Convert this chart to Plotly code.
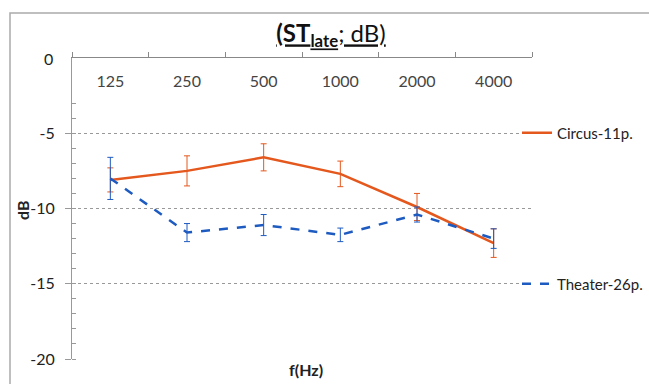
import plotly.graph_objects as go

freqs = ["125", "250", "500", "1000", "2000", "4000"]
circus = [-8.1, -7.5, -6.6, -7.7, -9.9, -12.3]
circus_err = [0.8, 1.0, 0.9, 0.85, 0.9, 0.95]
theater = [-8.0, -11.6, -11.1, -11.75, -10.4, -12.0]
theater_err = [1.4, 0.6, 0.7, 0.45, 0.5, 0.65]
y_ticks = [-5, -10, -15, -20]
y_tick_text = ["-5", "-10", "-15", "-20"]

orange = "#E4581E"
blue = "#1E5BC0"
font = "Lato"

fig = go.Figure()
fig.add_trace(go.Scatter(
    x=freqs, y=circus, mode="lines", name="Circus-11p.",
    line=dict(color=orange, width=2.5),
    error_y=dict(type="data", array=circus_err, color=orange, thickness=1, width=3),
    legend="legend"))
fig.add_trace(go.Scatter(
    x=freqs, y=theater, mode="lines", name="Theater-26p.",
    line=dict(color=blue, width=2.5, dash="dash"),
    error_y=dict(type="data", array=theater_err, color=blue, thickness=1, width=3),
    legend="legend2"))

L, R, T, B = 72, 117, 58, 25
W, H = 649, 384
pw, ph = W - L - R, H - T - B

def px2x(p):
    return (p - L) / pw

def py2y(p):
    return (H - B - p) / ph

fig.update_layout(
    width=W, height=H,
    margin=dict(l=L, r=R, t=T, b=B, autoexpand=False),
    paper_bgcolor="white", plot_bgcolor="white",
    font=dict(family=font, size=15, color="#222"),
    title=dict(text="<u><b>(ST<sub>late</sub></b>; dB)</u>", x=331 / W, xanchor="center",
               y=1 - 34 / H, yanchor="middle", font=dict(size=24, color="#111")),
    showlegend=True,
    legend=dict(x=px2x(517), y=py2y(133), xanchor="left", yanchor="middle",
                bgcolor="rgba(0,0,0,0)", font=dict(size=15), itemwidth=30),
    legend2=dict(x=px2x(517), y=py2y(284), xanchor="left", yanchor="middle",
                 bgcolor="rgba(0,0,0,0)", font=dict(size=15), itemwidth=30),
    xaxis=dict(
        type="category", side="top", ticklabelposition="inside",
        range=[-0.5, 5.5], ticklabelstandoff=18,
        tickson="boundaries", ticks="outside", ticklen=5, tickcolor="#888",
        showline=True, linecolor="#888", linewidth=1,
        showgrid=False, tickfont=dict(size=16),
    ),
    yaxis=dict(
        range=[-20, 0], tickvals=y_ticks, ticktext=y_tick_text,
        showline=True, linecolor="#999", linewidth=1,
        ticks="outside", ticklen=6, tickcolor="#999", ticklabelstandoff=7,
        showgrid=True, gridcolor="#999", griddash="dot", gridwidth=1,
        zeroline=False, tickfont=dict(size=16),
        minor=dict(dtick=1, ticks="inside", ticklen=4, tickcolor="#999", showgrid=False),
    ),
    shapes=[dict(type="rect", xref="paper", yref="paper",
                 x0=px2x(10), x1=px2x(660), y0=py2y(395), y1=py2y(13),
                 line=dict(color="#aaa", width=1.5))],
    annotations=[
        dict(text="0", xref="paper", yref="y", x=px2x(55), y=0,
             xanchor="right", yanchor="middle", showarrow=False, font=dict(size=16)),
        dict(text="<b>f(Hz)</b>", xref="paper", yref="paper", x=px2x(306), y=py2y(369),
             xanchor="center", yanchor="middle", showarrow=False, font=dict(size=16)),
        dict(text="<b>dB</b>", xref="paper", yref="paper", x=px2x(22), y=py2y(210),
             xanchor="center", yanchor="middle", showarrow=False, textangle=-90,
             font=dict(size=16)),
    ],
)

fig.write_html("out.html")
